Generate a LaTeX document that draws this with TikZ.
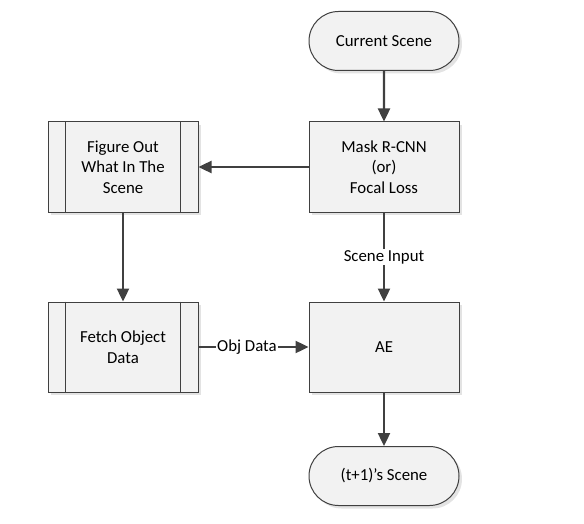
\documentclass[tikz,border=0pt]{standalone}
\usepackage{fontspec}
\setmainfont{Carlito}
\usetikzlibrary{arrows.meta,shapes.misc,shadows}
\definecolor{boxfill}{HTML}{F2F2F2}
\definecolor{boxline}{HTML}{404040}
\definecolor{shadowc}{HTML}{E3E3E3}
\tikzset{
  base/.style={draw=boxline, fill=boxfill, line width=1pt, align=center,
    font=\fontsize{16.8}{20.5}\selectfont, text=black, inner sep=0pt,
    drop shadow={shadow xshift=3pt, shadow yshift=-3pt, fill=shadowc, opacity=1}},
  procbox/.style={base, minimum width=150pt, minimum height=90pt},
  subproc/.style={procbox},
  termbox/.style={base, rounded rectangle, minimum width=150pt, minimum height=59pt},
  flow/.style={draw=boxline, line width=2.4pt, -{Triangle[length=13pt,width=12pt]}},
  lbl/.style={fill=white, font=\fontsize{16.8}{20.5}\selectfont, inner sep=1pt}
}
\begin{document}
\begin{tikzpicture}[x=1pt,y=-1pt]
\useasboundingbox (0,0) rectangle (584,524);
\node[termbox] (cur) at (384,41) {Current Scene};
\node[procbox] (mask) at (384,167) {Mask R-CNN\\(or)\\Focal Loss};
\node[subproc] (fig) at (123,167) {Figure Out\\What In The\\Scene};
\draw[boxline, line width=1pt] ([xshift=18pt]fig.north west) -- ([xshift=18pt]fig.south west)
  ([xshift=-18pt]fig.north east) -- ([xshift=-18pt]fig.south east);
\node[subproc] (fetch) at (123,347) {Fetch Object\\Data};
\draw[boxline, line width=1pt] ([xshift=18pt]fetch.north west) -- ([xshift=18pt]fetch.south west)
  ([xshift=-18pt]fetch.north east) -- ([xshift=-18pt]fetch.south east);
\node[procbox] (ae) at (384,347) {AE};
\node[termbox] (next) at (384,476) {(t+1)’s Scene};
\draw[flow] (cur) -- (mask);
\draw[flow] (mask) -- (fig);
\draw[flow] (fig) -- (fetch);
\draw[flow] (mask) -- node[lbl, pos=0.5] (si) {Scene Input} (ae);
\draw[flow] (fetch) -- node[lbl, pos=0.44] (od) {Obj Data} (ae);
\draw[flow] (ae) -- (next);
\end{tikzpicture}
\end{document}
